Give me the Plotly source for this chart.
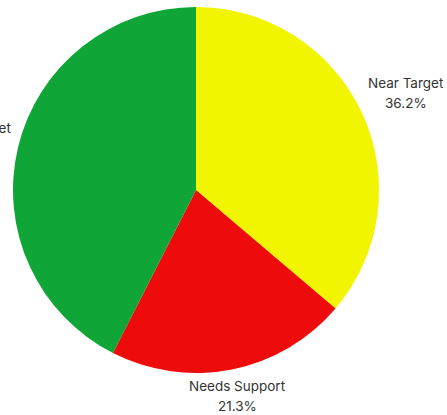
import math
import plotly.graph_objects as go

# Share of students by progress band
labels = ["Near Target", "Needs Support", "On Target"]
values = [36.2, 21.3, 42.5]
colors = ["#F2F500", "#EE0B0B", "#10A537"]

# Canvas and pie geometry (pixels)
W, H = 447, 415
M = dict(l=13, r=68, t=7, b=42)
plot_w = W - M["l"] - M["r"]
plot_h = H - M["t"] - M["b"]
radius = min(plot_w, plot_h) / 2
label_gap = 7          # distance of the label anchor beyond the rim
font_size = 13.5
line_h = 20            # vertical distance between the two label lines
font = dict(family="Inter, sans-serif", size=font_size, color="#333333")

# Rough Inter advance widths (em) to size each label box
ADV = {
    "N": .74, "O": .77, "S": .63, "T": .61, "a": .55, "d": .60, "e": .57,
    "g": .59, "n": .58, "o": .59, "p": .60, "r": .37, "s": .52, "t": .35,
    "u": .59, " ": .28, ".": .28, "%": .85,
}


def text_width(s):
    return sum(ADV.get(ch, .62) for ch in s) * font_size


fig = go.Figure(
    go.Pie(
        labels=labels,
        values=values,
        sort=False,
        direction="clockwise",
        rotation=0,
        marker=dict(colors=colors, line=dict(width=0)),
        textinfo="none",
        showlegend=False,
        hoverinfo="label+percent",
    )
)

# Outside labels: anchor just past the rim on each slice's mid-angle,
# then push the two-line box outward until its edge touches the anchor.
total = sum(values)
cum = 0.0
for name, v in zip(labels, values):
    mid = (cum + v / 2) / total * 2 * math.pi
    cum += v
    dx, dy = math.sin(mid), -math.cos(mid)          # screen direction
    pct = f"{v / total * 100:.1f}%"
    half_w = max(text_width(name), text_width(pct)) / 2
    half_h = line_h
    t = min(half_w / abs(dx) if abs(dx) > 1e-9 else 1e9,
            half_h / abs(dy) if abs(dy) > 1e-9 else 1e9)
    dist = radius + label_gap + t
    cx = dist * dx                                   # offset from centre, px
    cy = dist * dy
    for text, off in ((name, -line_h / 2), (pct, line_h / 2)):
        fig.add_annotation(
            x=0.5 + cx / plot_w,
            y=0.5 - (cy + off) / plot_h,
            xref="paper", yref="paper",
            text=text, showarrow=False,
            xanchor="center", yanchor="middle",
            font=font,
        )

fig.update_layout(
    width=W,
    height=H,
    margin=dict(**M, autoexpand=False),
    paper_bgcolor="#FFFFFF",
    plot_bgcolor="#FFFFFF",
)

fig.write_html("out.html")
